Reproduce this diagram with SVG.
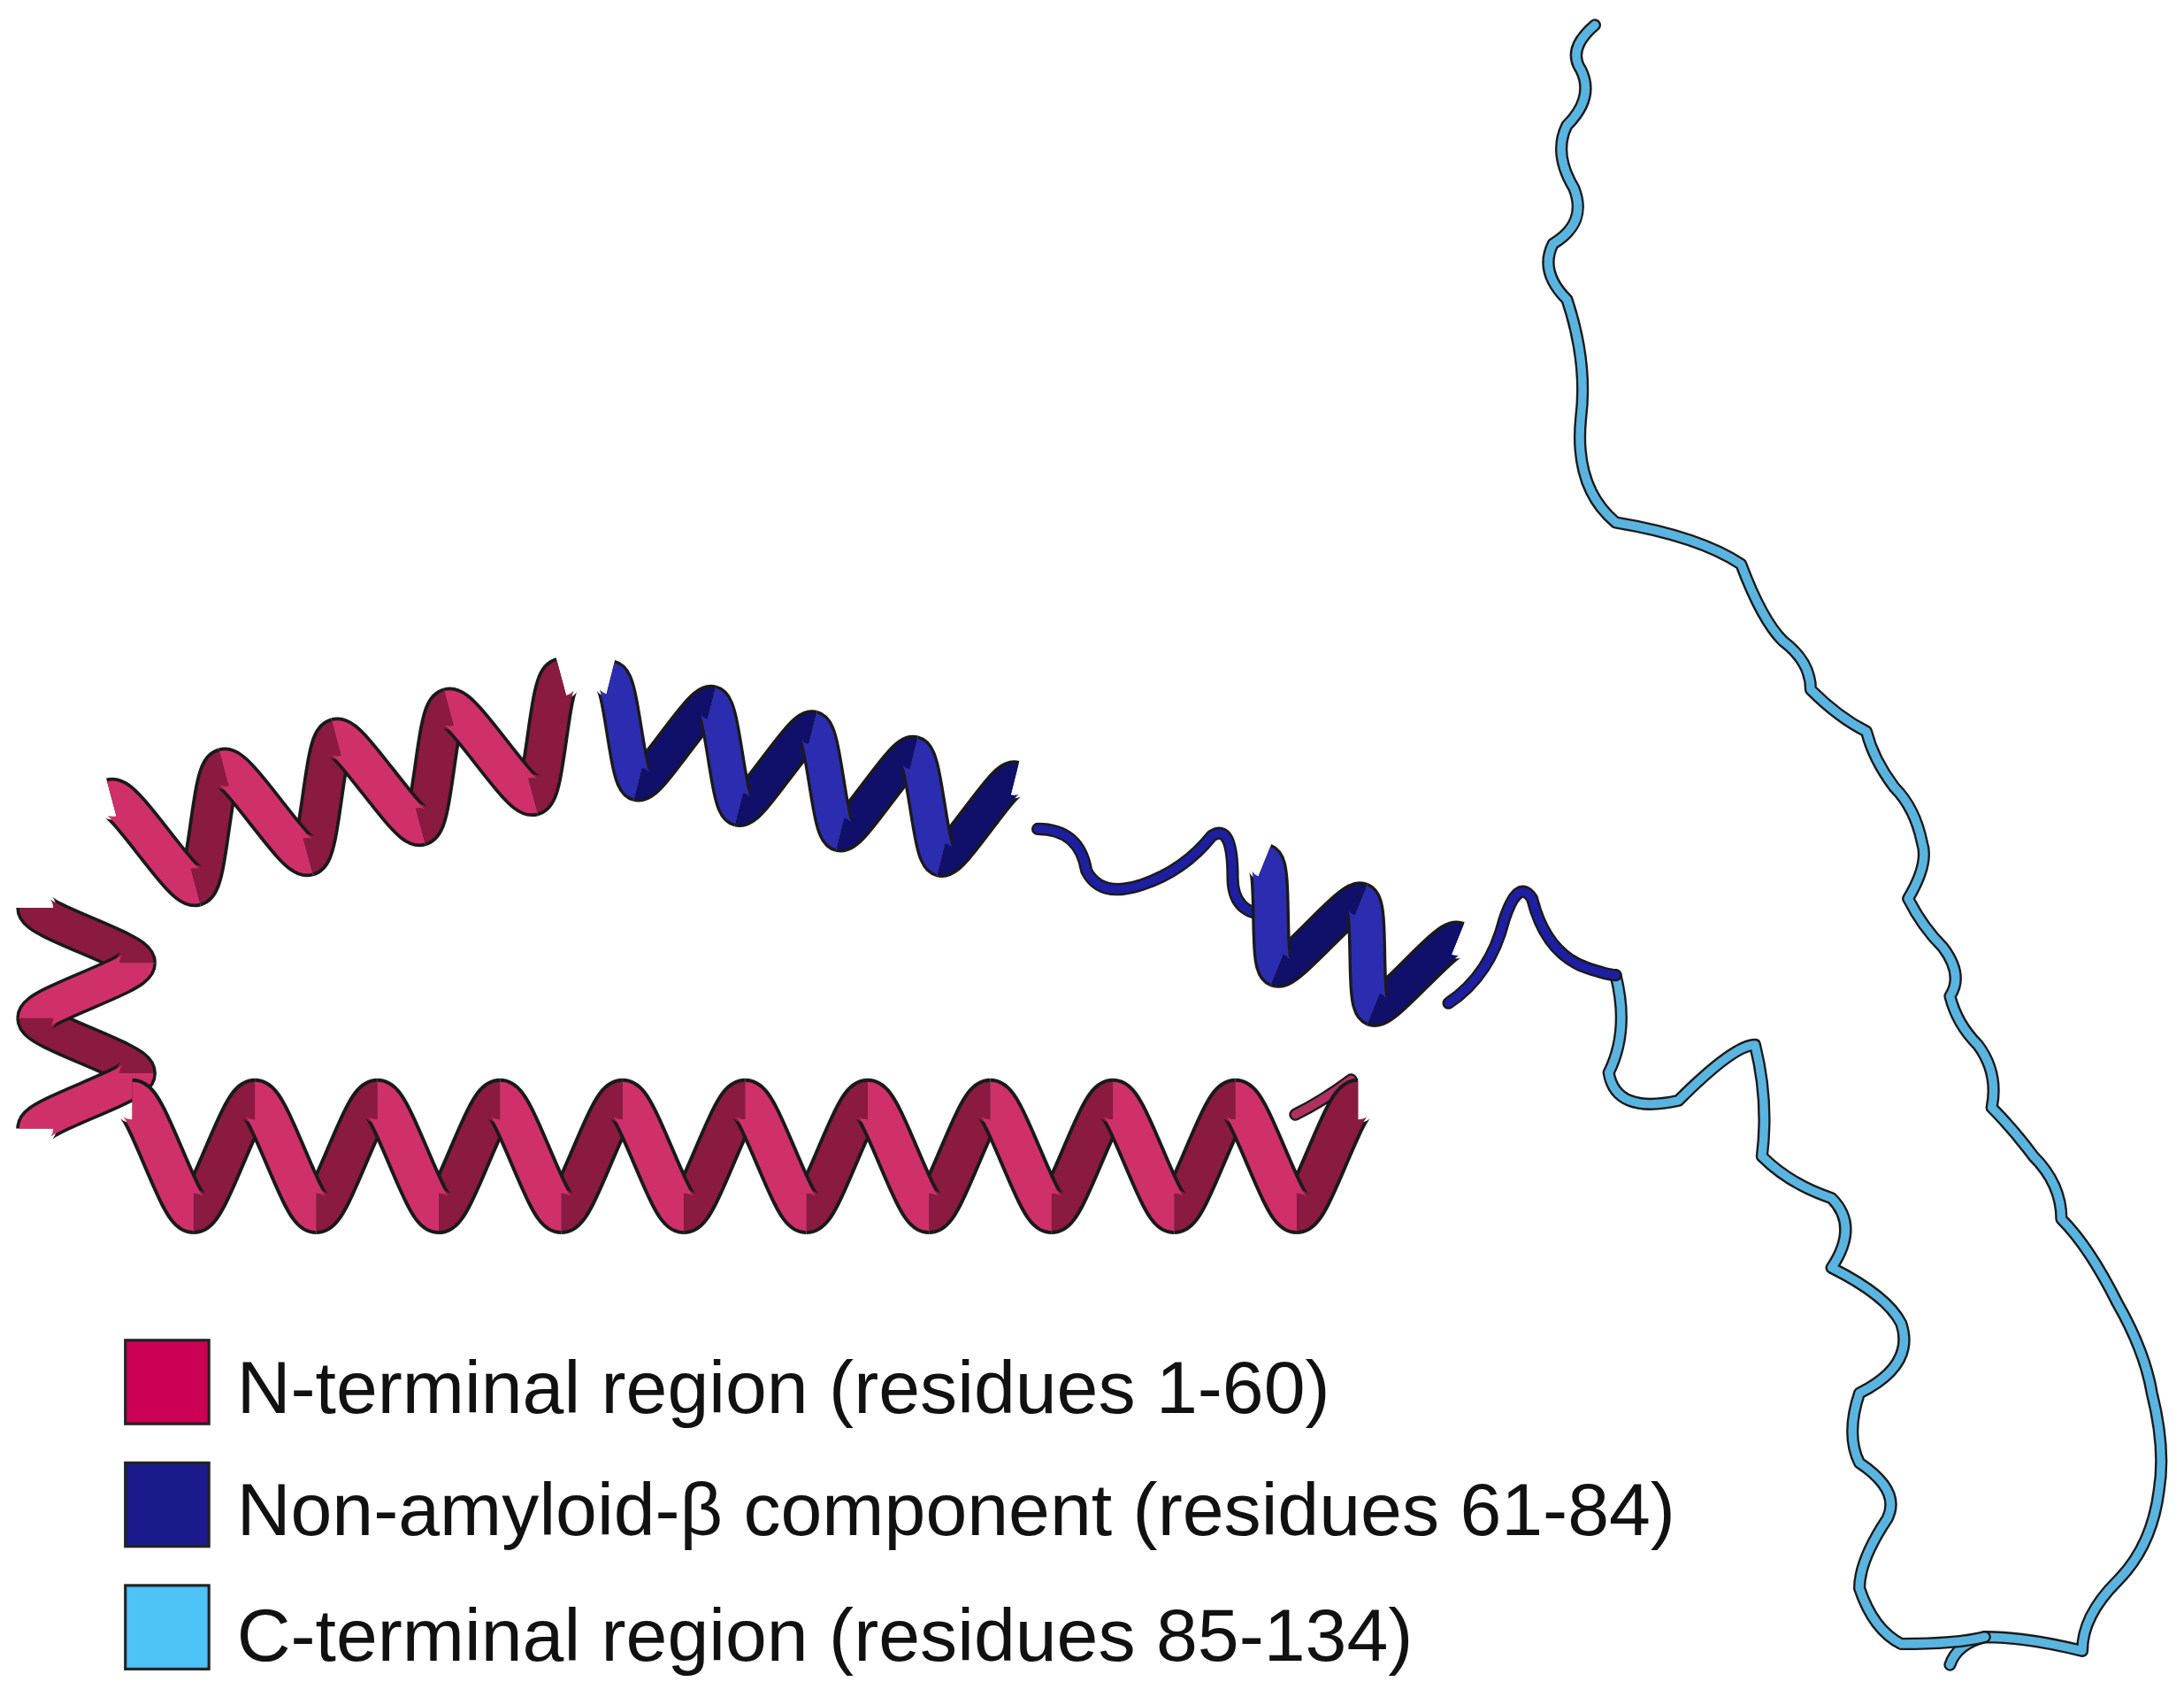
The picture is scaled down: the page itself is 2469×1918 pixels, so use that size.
<svg xmlns="http://www.w3.org/2000/svg" width="2469" height="1918" viewBox="0 0 2469 1918">
<style>
.ol{fill:none;stroke:#1a1a1a;stroke-width:32;stroke-linecap:butt}
.rf{fill:none;stroke:#d0306a;stroke-width:27}
.rb{fill:none;stroke:#8a1a40;stroke-width:27}
.bf{fill:none;stroke:#2c2cb0;stroke-width:27}
.bb{fill:none;stroke:#10106a;stroke-width:27}
.coilo{fill:none;stroke:#1a1a1a;stroke-width:9;stroke-linecap:round;stroke-linejoin:round}
.coilb{fill:none;stroke:#1e1ea0;stroke-width:6;stroke-linecap:round;stroke-linejoin:round}
.coilc{fill:none;stroke:#5ab4e0;stroke-width:6;stroke-linecap:round;stroke-linejoin:round}
.lab{font-family:"Liberation Sans",Arial,sans-serif;font-size:53.5px;fill:#111}
</style>
<defs>
<g id="tR"><path class="ol" d="M44,40 c10,0 34,-80 44,-80"/><path class="rb" d="M44,40 c10,0 34,-80 44,-80"/><path class="ol" d="M0,-40 c10,0 34,80 44,80"/><path class="rf" d="M0,-40 c10,0 34,80 44,80"/></g>
<g id="tB"><path class="ol" d="M44,40 c10,0 34,-80 44,-80"/><path class="bb" d="M44,40 c10,0 34,-80 44,-80"/><path class="ol" d="M0,-40 c10,0 34,80 44,80"/><path class="bf" d="M0,-40 c10,0 34,80 44,80"/></g>
<path id="c1" d="M1145,18 Q1125,35 1135,50 Q1145,70 1125,90 Q1115,110 1130,135 Q1140,160 1115,175 Q1105,195 1125,215 Q1140,260 1135,300 Q1130,350 1160,375 Q1220,385 1250,405 Q1265,445 1280,460 Q1300,475 1300,495 Q1320,515 1340,525 Q1345,545 1360,565 Q1375,580 1380,605 Q1385,620 1370,645 Q1380,665 1395,680 Q1410,700 1400,715 Q1405,735 1420,750 Q1435,770 1430,795 Q1445,810 1460,830 Q1480,850 1480,875 Q1500,895 1520,935 Q1540,970 1545,1000 Q1555,1040 1550,1070 Q1545,1110 1520,1135 Q1495,1160 1495,1185 Q1455,1175 1425,1175 Q1405,1180 1400,1195"/>
<path id="c2" d="M1160,700 q10,40 -5,70 q5,30 50,20 q40,-40 55,-40 q10,40 5,80 q20,20 50,30 q20,20 0,50 q40,20 50,40 q10,30 -30,50 q-10,30 0,50 q30,20 20,40 q-20,30 -20,50 q10,30 30,40 q40,0 60,-5"/>
</defs>
<g transform="scale(1.5746)">
<g id="cterm">
<use href="#c1" class="coilo"/><use href="#c1" class="coilc"/>
<use href="#c2" class="coilo"/><use href="#c2" class="coilc"/>
</g>
<g id="nac">
<path class="coilo" d="M745,595 q30,0 35,30 q10,20 40,10 q30,-10 50,-35 q15,-10 15,30 q0,20 15,25"/>
<path class="coilb" d="M745,595 q30,0 35,30 q10,20 40,10 q30,-10 50,-35 q15,-10 15,30 q0,20 15,25"/>
<path class="coilo" d="M1040,720 q30,-20 40,-60 q10,-30 20,-15 q10,40 40,50 q15,5 20,5"/>
<path class="coilb" d="M1040,720 q30,-20 40,-60 q10,-30 20,-15 q10,40 40,50 q15,5 20,5"/>
<g transform="translate(430,520) rotate(14) scale(0.85)"><use href="#tB"/><use href="#tB" x="88"/><use href="#tB" x="176"/><use href="#tB" x="264"/></g>
<g transform="translate(895,650) rotate(22) scale(0.85)"><use href="#tB"/><use href="#tB" x="88"/></g>
</g>
<g id="nterm">
<path class="coilo" d="M930,800 q20,-10 40,-25"/>
<path class="coilc" style="stroke:#b03060" d="M930,800 q20,-10 40,-25"/>
<g transform="translate(62,810) rotate(-90) scale(0.9)"><use href="#tR"/><use href="#tR" x="88"/></g>
<g transform="translate(90,610) rotate(-15) scale(0.95)"><use href="#tR"/><use href="#tR" x="88"/><use href="#tR" x="176"/><use href="#tR" x="264"/></g>
<g transform="translate(95,830)"><use href="#tR"/><use href="#tR" x="88"/><use href="#tR" x="176"/><use href="#tR" x="264"/><use href="#tR" x="352"/><use href="#tR" x="440"/><use href="#tR" x="528"/><use href="#tR" x="616"/><use href="#tR" x="704"/><use href="#tR" x="792"/></g>
</g>
<g id="legend">
<rect x="90" y="962" width="60" height="60" fill="#cc0055" stroke="#222" stroke-width="2"/>
<rect x="90" y="1050" width="60" height="60" fill="#1a1a8c" stroke="#222" stroke-width="2"/>
<rect x="90" y="1138" width="60" height="60" fill="#4dc3f7" stroke="#222" stroke-width="2"/>
<text class="lab" x="170" y="1014">N-terminal region (residues 1-60)</text>
<text class="lab" x="170" y="1102">Non-amyloid-β component (residues 61-84)</text>
<text class="lab" x="170" y="1192">C-terminal region (residues 85-134)</text>
</g>
</g>
</svg>
